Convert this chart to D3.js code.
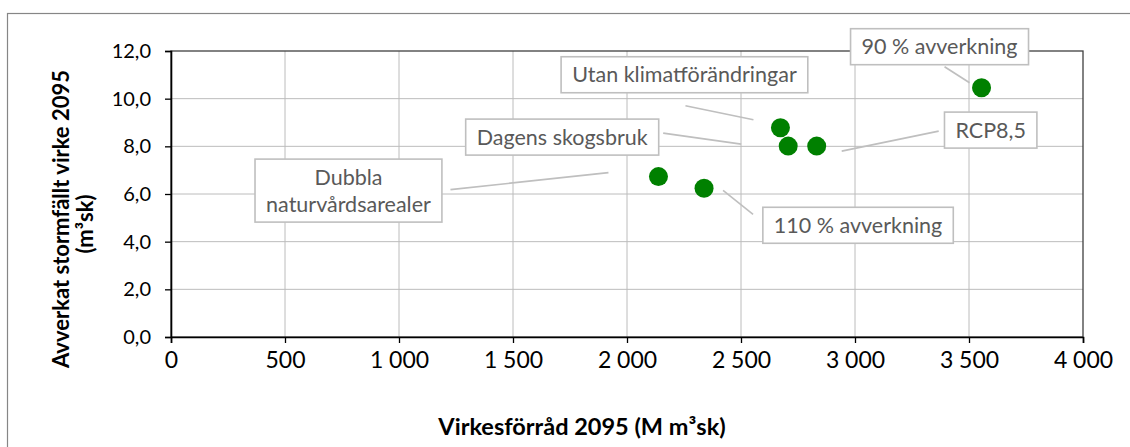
<!DOCTYPE html>
<html>
<head>
<meta charset="utf-8">
<script src="https://cdnjs.cloudflare.com/ajax/libs/d3/7.8.5/d3.min.js"></script>
<style>
  body { margin: 0; background: #fff; }
  svg { display: block; font-family: Lato, "Open Sans", sans-serif; }
</style>
</head>
<body>
<div id="chart"></div>
<script>
// scenario names (labels) and values
const scenarios = ['90 % avverkning', 'Utan klimatförändringar', 'Dagens skogsbruk', 'RCP8,5', 'Dubbla|naturvårdsarealer', '110 % avverkning'];
const volume = [3555, 2673, 2707, 2832, 2138, 2338];      // Virkesförråd 2095 (M m³sk)
const stormFelled = [10.46, 8.78, 8.01, 8.01, 6.73, 6.24];  // Avverkat stormfällt virke 2095 (m³sk)

const xTicks = [0, 500, 1000, 1500, 2000, 2500, 3000, 3500, 4000];
const yTicks = [0, 2, 4, 6, 8, 10, 12];

// label box placement relative to its point: box centre, leader start, leader end
const labelLayout = [
  { dx: -42, dy: -41, l1: [-37, -21], l2: [-12, -5] },
  { dx: -96, dy: -53, l1: [-95, -22], l2: [-27, -8] },
  { dx: -226, dy: -9, l1: [-125, -13], l2: [-47, -2] },
  { dx: 174, dy: -16, l1: [122, -15], l2: [25, 5] },
  { dx: -310, dy: 14, l1: [-208, 13], l2: [-50, -4] },
  { dx: 154, dy: 37, l1: [19, 2], l2: [49, 26] }
];

const W = 1130, H = 447;
const plot = { left: 171, right: 1083, top: 51, bottom: 337 };

const svg = d3.select('#chart').append('svg')
  .attr('width', W)
  .attr('height', H);

// outer chart frame (right and bottom edges fall outside the picture)
svg.append('rect')
  .attr('x', 7.5).attr('y', 13.5)
  .attr('width', W).attr('height', H)
  .attr('fill', '#fff')
  .attr('stroke', '#868686')
  .attr('stroke-width', 1.2);

const x = d3.scaleLinear().domain([0, 4000]).range([plot.left, plot.right]);
const y = d3.scaleLinear().domain([0, 12]).range([plot.bottom, plot.top]);

const fmtX = d => d3.format(',')(d).replace(/,/g, ' ');
const fmtY = d => d3.format('.1f')(d).replace('.', ',');

// gridlines
svg.append('g')
  .selectAll('line.vx')
  .data(xTicks.filter(d => d > 0 && d < 4000))
  .join('line')
  .attr('x1', d => x(d)).attr('x2', d => x(d))
  .attr('y1', plot.top).attr('y2', plot.bottom)
  .attr('stroke', '#bcbcbc').attr('stroke-width', 1);

svg.append('g')
  .selectAll('line.hy')
  .data(yTicks.filter(d => d > 0 && d < 12))
  .join('line')
  .attr('x1', plot.left).attr('x2', plot.right)
  .attr('y1', d => y(d)).attr('y2', d => y(d))
  .attr('stroke', '#bcbcbc').attr('stroke-width', 1);

// plot area border
svg.append('rect')
  .attr('x', plot.left).attr('y', plot.top)
  .attr('width', plot.right - plot.left)
  .attr('height', plot.bottom - plot.top)
  .attr('fill', 'none')
  .attr('stroke', '#404040')
  .attr('stroke-width', 1.3);

// axes
const xAxis = svg.append('g')
  .attr('transform', `translate(0,${plot.bottom})`)
  .call(d3.axisBottom(x).tickValues(xTicks).tickFormat(fmtX).tickSize(6).tickPadding(9));
const yAxis = svg.append('g')
  .attr('transform', `translate(${plot.left},0)`)
  .call(d3.axisLeft(y).tickValues(yTicks).tickFormat(fmtY).tickSize(6).tickPadding(14));

[xAxis, yAxis].forEach(a => {
  a.select('.domain').attr('stroke', '#000').attr('stroke-width', 1.6);
  a.selectAll('.tick line').attr('stroke', '#000').attr('stroke-width', 1.3);
  a.selectAll('.tick text').attr('fill', '#000').style('font-family', 'Lato, sans-serif');
});
xAxis.selectAll('.tick text').style('font-size', '23px');
yAxis.selectAll('.tick text').style('font-size', '20px');

// axis titles
svg.append('text')
  .attr('x', 582).attr('y', 435)
  .attr('text-anchor', 'middle')
  .style('font-size', '23.5px').style('font-weight', 'bold')
  .attr('fill', '#000')
  .text('Virkesförråd 2095 (M m³sk)');

// y title: two rotated lines, each centred by its measured length
const yTitleLines = [
  { text: 'Avverkat stormfällt virke 2095', bx: 69, cy: 219 },
  { text: '(m³sk)', bx: 93, cy: 224 }
];
yTitleLines.forEach(l => {
  const t = svg.append('text')
    .style('font-size', '22px').style('font-weight', 'bold')
    .attr('fill', '#000')
    .text(l.text);
  const len = t.node().getComputedTextLength();
  t.attr('transform', `translate(${l.bx},${l.cy + len / 2}) rotate(-90)`);
});

// leader lines
const ann = svg.append('g');
scenarios.forEach((name, i) => {
  const px = x(volume[i]), py = y(stormFelled[i]);
  const L = labelLayout[i];
  ann.append('line')
    .attr('x1', px + L.l1[0]).attr('y1', py + L.l1[1])
    .attr('x2', px + L.l2[0]).attr('y2', py + L.l2[1])
    .attr('stroke', '#bfbfbf').attr('stroke-width', 1.6);
});

// points
svg.append('g')
  .selectAll('circle')
  .data(scenarios.map((s, i) => ({ s, v: volume[i], w: stormFelled[i] })))
  .join('circle')
  .attr('cx', d => x(d.v))
  .attr('cy', d => y(d.w))
  .attr('r', 9.5)
  .attr('fill', '#008000');

// label boxes
scenarios.forEach((name, i) => {
  const px = x(volume[i]), py = y(stormFelled[i]);
  const L = labelLayout[i];
  const lines = name.split('|');
  const lineH = 27;
  const g = svg.append('g').attr('transform', `translate(${px + L.dx},${py + L.dy})`);
  const box = g.append('rect');
  const t = g.append('text')
    .attr('text-anchor', 'middle')
    .style('font-size', '21.5px')
    .attr('fill', '#595959');
  lines.forEach((ln, j) => {
    t.append('tspan')
      .attr('x', 0)
      .attr('y', (j - (lines.length - 1) / 2) * lineH + 7.5)
      .text(ln);
  });
  const bb = t.node().getBBox();
  const bw = bb.width + 22, bh = (lines.length - 1) * lineH + 36;
  box.attr('x', -bw / 2).attr('y', -bh / 2)
    .attr('width', bw).attr('height', bh)
    .attr('fill', '#fff')
    .attr('stroke', '#bfbfbf')
    .attr('stroke-width', 1.6);
});
</script>
</body>
</html>
